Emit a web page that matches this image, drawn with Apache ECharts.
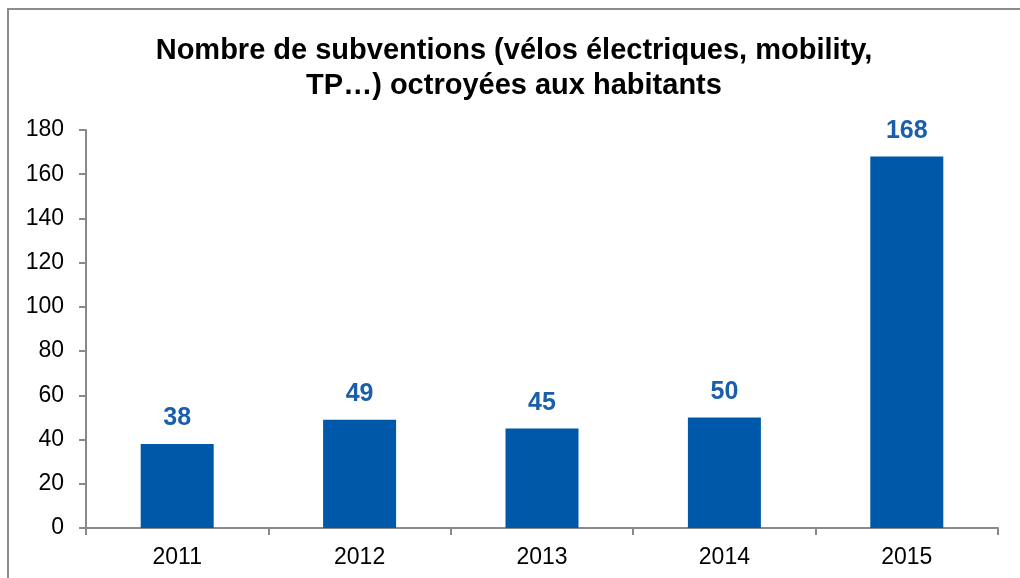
<!DOCTYPE html>
<html>
<head>
<meta charset="utf-8">
<script src="https://cdn.jsdelivr.net/npm/echarts@6/dist/echarts.min.js"></script>
<style>
    html, body { margin: 0; padding: 0; background: #fff; }
    #frame {
        position: absolute; left: 7px; top: 8px; width: 1100px; height: 700px;
        border: 2px solid #8c8c8c; box-sizing: border-box;
    }
    #chart { position: absolute; left: 0; top: 0; width: 1020px; height: 578px; }
</style>
</head>
<body>
<div id="frame"></div>
<div id="chart"></div>
<script>
const years = ['2011', '2012', '2013', '2014', '2015'];
const subsidies = [38, 49, 45, 50, 168];
const yTicks = { min: 0, max: 180, interval: 20 };

const chart = echarts.init(document.getElementById('chart'));

const axisGrey = '#898989';
const font = 'Liberation Sans, Arial';

chart.setOption({
    animation: false,
    title: {
        text: 'Nombre de subventions (vélos électriques, mobility,\nTP…) octroyées aux habitants',
        left: 509,
        top: 28,
        textAlign: 'center',
        textStyle: {
            fontFamily: font,
            fontSize: 29,
            fontWeight: 'bold',
            color: '#000',
            lineHeight: 35
        }
    },
    grid: { left: 86, right: 22, top: 130, bottom: 50 },
    xAxis: {
        type: 'category',
        data: years,
        axisLine: { lineStyle: { color: axisGrey, width: 2 } },
        axisTick: { show: true, alignWithLabel: false, length: 7, lineStyle: { color: axisGrey, width: 2 } },
        axisLabel: { fontFamily: font, fontSize: 23, color: '#000', margin: 18 }
    },
    yAxis: {
        type: 'value',
        min: yTicks.min,
        max: yTicks.max,
        interval: yTicks.interval,
        splitLine: { show: false },
        axisLine: { show: true, lineStyle: { color: axisGrey, width: 2 } },
        axisTick: { show: true, length: 7, lineStyle: { color: axisGrey, width: 2 } },
        axisLabel: { fontFamily: font, fontSize: 23, color: '#000', margin: 22 }
    },
    series: [{
        type: 'bar',
        data: subsidies,
        barWidth: 73,
        itemStyle: { color: '#0058A8' },
        label: {
            show: true,
            position: 'top',
            distance: 13,
            fontFamily: font,
            fontSize: 25,
            fontWeight: 'bold',
            color: '#1B5EAB'
        }
    }]
});
</script>
</body>
</html>
